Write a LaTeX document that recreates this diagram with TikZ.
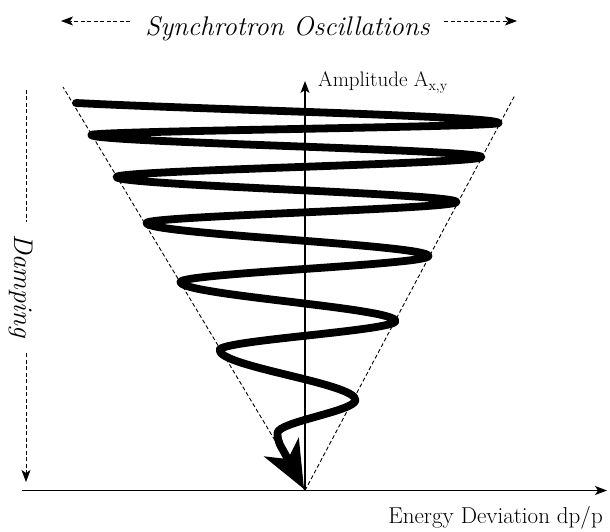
\documentclass[tikz,border=0pt]{standalone}
\usetikzlibrary{arrows.meta}
\begin{document}
\begin{tikzpicture}[x=1pt,y=-1pt,
  axis/.style={line width=1.3pt,-{Stealth[length=12pt,width=9pt,inset=3pt]}},
  guide/.style={line width=0.9pt,dash pattern=on 4pt off 2.5pt},
  dasharrow/.style={guide,-{Stealth[length=12pt,width=9pt,inset=3pt]}},
  spiral/.style={line width=7.8pt,line cap=round,line join=round},
  lbl/.style={inner sep=0pt,font=\fontsize{21}{25}\selectfont},
  ital/.style={inner sep=0pt,font=\fontsize{27}{32}\selectfont\itshape}]
\useasboundingbox (0,0) rectangle (610,532);
% axes and cone
\coordinate (O) at (305,490.5);
\coordinate (xs) at (22,490.5);
\coordinate (xe) at (607,490.5);
\coordinate (ye) at (305,81);
\coordinate (cl) at (63,87);
\coordinate (cr) at (515,95);
\draw[guide] (O) -- (cl);
\draw[guide] (O) -- (cr);
\draw[axis] (xs) -- (xe);
\draw[axis] (O) -- (ye);
% labels
\node[lbl,anchor=base west] (amp) at (318,87) {Amplitude A$_{\mathrm{x,y}}$};
\node[lbl,anchor=base east,font=\fontsize{23}{27}\selectfont] (en) at (603,523) {Energy Deviation dp/p};
\node[ital,anchor=base] (syn) at (287.5,36) {Synchrotron Oscillations};
\node[ital,anchor=base,rotate=-90] (damp) at (14.5,286) {Damping};
% guide arrows
\coordinate (sl) at (61,21);
\coordinate (slb) at (130,21);
\coordinate (sr) at (517,21);
\coordinate (srb) at (444,21);
\draw[dasharrow] (slb) -- (sl);
\draw[dasharrow] (srb) -- (sr);
\coordinate (dt) at (26,90);
\coordinate (dtb) at (26,222);
\coordinate (db) at (26,353);
\coordinate (de) at (26,482);
\draw[guide] (dt) -- (dtb);
\draw[dasharrow] (db) -- (de);
% spiral
\draw[spiral,-{Stealth[length=48pt,width=40pt,inset=14pt,line width=0pt]}]
  (76,103) .. controls (216,110) and (498.5,116.3) .. (498.5,123)
  .. controls (498.5,127) and (91.5,131) .. (91.5,135)
  .. controls (91.5,142.3) and (481.5,149.7) .. (481.5,157)
  .. controls (481.5,163.7) and (116.5,170.3) .. (116.5,177)
  .. controls (116.5,185.3) and (456.5,193.7) .. (456.5,202)
  .. controls (456.5,209) and (146.5,216) .. (146.5,223)
  .. controls (146.5,234) and (428.5,245) .. (428.5,256)
  .. controls (428.5,264.7) and (180.5,273.3) .. (180.5,282)
  .. controls (180.5,295) and (395.5,308) .. (395.5,321)
  .. controls (395.5,330.7) and (219.5,340.3) .. (219.5,350)
  .. controls (219.5,366.7) and (355.5,383.3) .. (355.5,400)
  .. controls (355.5,411) and (277.5,422) .. (277.5,433)
  .. controls (277.5,442) and (280.5,445.5) .. (284,452)
  -- (304,489);
\end{tikzpicture}
\end{document}
